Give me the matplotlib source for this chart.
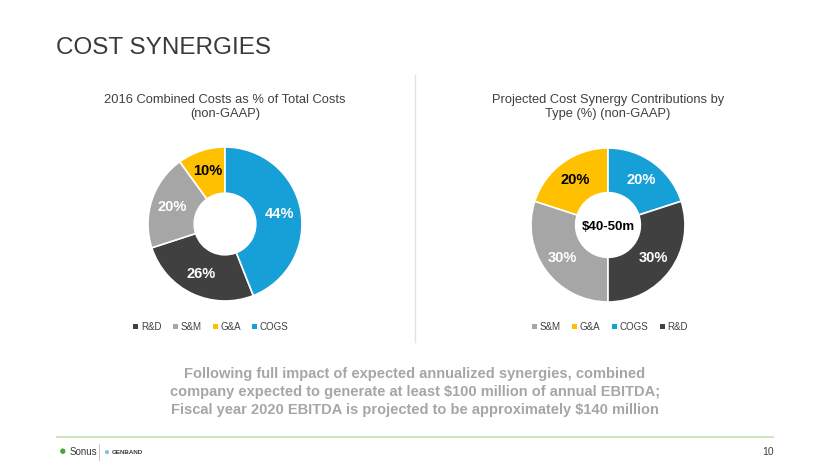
import numpy as np
import matplotlib.pyplot as plt
from matplotlib.patches import Patch
from matplotlib.lines import Line2D

# ── data ──────────────────────────────────────────────────────────────────────
left_labels = ["R&D", "S&M", "G&A", "COGS"]
left_values = [26, 20, 10, 44]
right_labels = ["S&M", "G&A", "COGS", "R&D"]
right_values = [30, 20, 20, 30]

colors = {"R&D": "#404040", "S&M": "#A6A6A6", "G&A": "#FFC000", "COGS": "#179FD7"}
label_color = {"R&D": "white", "S&M": "white", "G&A": "black", "COGS": "white"}

plt.rcParams["font.family"] = ["Liberation Sans", "DejaVu Sans"]

W, H = 830, 467
fig = plt.figure(figsize=(W / 100, H / 100), dpi=100)
fig.patch.set_facecolor("white")


def px(x, y):
    return x / W, 1 - y / H


def donut(cx, cy, r, labels, values, start_before, hole):
    ax = fig.add_axes([(cx - r) / W, 1 - (cy + r) / H, 2 * r / W, 2 * r / H])
    # first slice starts after `start_before` percent measured clockwise from 12 o'clock
    start = 90 - start_before * 3.6
    wedges, texts = ax.pie(values, colors=[colors[l] for l in labels],
                           startangle=start, counterclock=False, radius=1,
                           wedgeprops=dict(width=1 - hole, edgecolor="white", linewidth=1.2))
    ax.set_xlim(-1, 1)
    ax.set_ylim(-1, 1)
    ax.axis("off")
    for w, l, v in zip(wedges, labels, values):
        ang = np.radians((w.theta1 + w.theta2) / 2)
        rr = (1 + hole) / 2 + 0.02
        ax.text(rr * np.cos(ang), rr * np.sin(ang), f"{v}%", ha="center", va="center",
                fontsize=10.5, fontweight="bold", color=label_color[l])
    return ax


ax_l = donut(225, 224, 77, left_labels, left_values, 44, 0.40)
ax_r = donut(608, 225, 77, right_labels, right_values, 50, 0.42)
ax_r.text(0, -0.02, "$40-50m", ha="center", va="center", fontsize=9.5,
          fontweight="bold", color="black")

# ── titles ────────────────────────────────────────────────────────────────────
fig.text(*px(56, 48), "COST SYNERGIES", fontsize=17.5, color="#3A3A3A",
         ha="left", va="center")
fig.text(*px(225, 107), "2016 Combined Costs as % of Total Costs\n(non-GAAP)",
         fontsize=9.3, color="#404040", ha="center", va="center", linespacing=1.3)
fig.text(*px(608, 107), "Projected Cost Synergy Contributions by\nType (%) (non-GAAP)",
         fontsize=9.3, color="#404040", ha="center", va="center", linespacing=1.3)

# divider
fig.add_artist(Line2D([415 / W, 415 / W], [1 - 75 / H, 1 - 342 / H],
                      color="#E3E3E3", lw=1))

# ── legends ───────────────────────────────────────────────────────────────────
for cx, labels in [(211, left_labels), (610, right_labels)]:
    handles = [Patch(facecolor=colors[l], edgecolor="none", label=l) for l in labels]
    fig.legend(handles=handles, loc="center", bbox_to_anchor=px(cx, 327), ncol=4,
               frameon=False, fontsize=7, handlelength=0.5, handleheight=0.5,
               handletextpad=0.25, columnspacing=1.2, labelcolor="#404040")

# ── footnote ──────────────────────────────────────────────────────────────────
fig.text(*px(415, 392),
         "Following full impact of expected annualized synergies, combined\n"
         "company expected to generate at least $100 million of annual EBITDA;\n"
         "Fiscal year 2020 EBITDA is projected to be approximately $140 million",
         fontsize=10.5, fontweight="bold", color="#A6A6A6", ha="center",
         va="center", linespacing=1.35)

# ── footer ────────────────────────────────────────────────────────────────────
fig.add_artist(Line2D([57 / W, 773 / W], [1 - 437 / H, 1 - 437 / H],
                      color="#CFE6C0", lw=1.5))
fig.text(*px(768, 452), "10", fontsize=7.5, color="#404040", ha="center", va="center")
fig.text(*px(63, 452), "\u25CF", fontsize=9, color="#4CA63F", ha="center", va="center")
fig.text(*px(70, 452), "Sonus", fontsize=7, color="#3A3A3A", ha="left", va="center")
fig.add_artist(Line2D([99 / W, 99 / W], [1 - 444 / H, 1 - 460 / H], color="#BBBBBB", lw=0.6))
fig.text(*px(106, 452), "\u25CF", fontsize=7, color="#7FC3EA", ha="center", va="center")
fig.text(*px(112, 452), "GENBAND", fontsize=4.5, fontweight="bold", color="#3A3A3A",
         ha="left", va="center")

fig.savefig("out.png", dpi=100, facecolor="white")
